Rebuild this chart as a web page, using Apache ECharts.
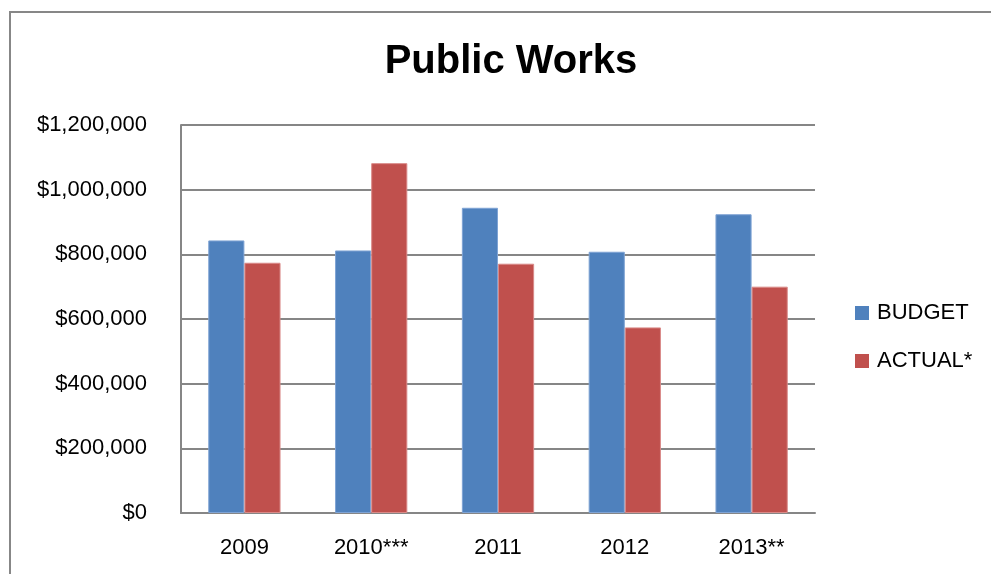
<!DOCTYPE html>
<html>
<head>
<meta charset="utf-8">
<script src="https://cdn.jsdelivr.net/npm/echarts@6/dist/echarts.min.js"></script>
<style>html,body{margin:0;padding:0;background:#fff;}#c{width:991px;height:574px;}</style>
</head>
<body>
<div id="c"></div>
<script>
const categories = ['2009', '2010***', '2011', '2012', '2013**'];
const budget = [843000, 812000, 944000, 808000, 924000];
const actual = [774000, 1082000, 771000, 574000, 700000];
const seriesNames = ['BUDGET', 'ACTUAL*'];
const yTicks = { min: 0, max: 1200000, interval: 200000 };

const font = 'Liberation Sans, Arial, sans-serif';
const chart = echarts.init(document.getElementById('c'));
chart.setOption({
  animation: false,
  backgroundColor: '#fff',
  graphic: [{
    type: 'rect', shape: { x: 10, y: 12, width: 1000, height: 600 },
    style: { fill: 'none', stroke: '#878787', lineWidth: 2 }, silent: true, z: -1
  }],
  title: {
    text: 'Public Works', left: 506, top: 37, textAlign: 'center',
    textStyle: { fontFamily: font, fontWeight: 'bold', fontSize: 40, color: '#000' }
  },
  legend: {
    orient: 'vertical', left: 850, top: 297, itemWidth: 14, itemHeight: 14, itemGap: 26,
    icon: 'rect',
    itemStyle: { borderWidth: 0 },
    textStyle: { fontFamily: font, fontSize: 22, color: '#000', padding: [0, 0, 0, 3] },
    data: seriesNames
  },
  grid: { left: 181, right: 176, top: 125, bottom: 61, containLabel: false },
  xAxis: {
    type: 'category', data: categories,
    axisLine: { lineStyle: { color: '#868686', width: 2 } },
    axisTick: { show: false },
    axisLabel: { margin: 24, fontFamily: font, fontSize: 22, color: '#000' }
  },
  yAxis: {
    type: 'value', min: yTicks.min, max: yTicks.max, interval: yTicks.interval,
    axisLine: { show: true, lineStyle: { color: '#868686', width: 2 } },
    axisTick: { show: false },
    splitLine: { lineStyle: { color: '#868686', width: 2 } },
    axisLabel: {
      margin: 34, fontFamily: font, fontSize: 22, color: '#000',
      formatter: v => '$' + v.toLocaleString('en-US')
    }
  },
  series: [
    { name: seriesNames[0], type: 'bar', data: budget, barGap: '0%', barCategoryGap: '43%',
      itemStyle: { color: '#4F81BD', borderColor: '#7FA3D4', borderWidth: 1 } },
    { name: seriesNames[1], type: 'bar', data: actual, barGap: '0%', barCategoryGap: '43%',
      itemStyle: { color: '#C0504D', borderColor: '#D98A88', borderWidth: 1 } }
  ]
});
</script>
</body>
</html>
